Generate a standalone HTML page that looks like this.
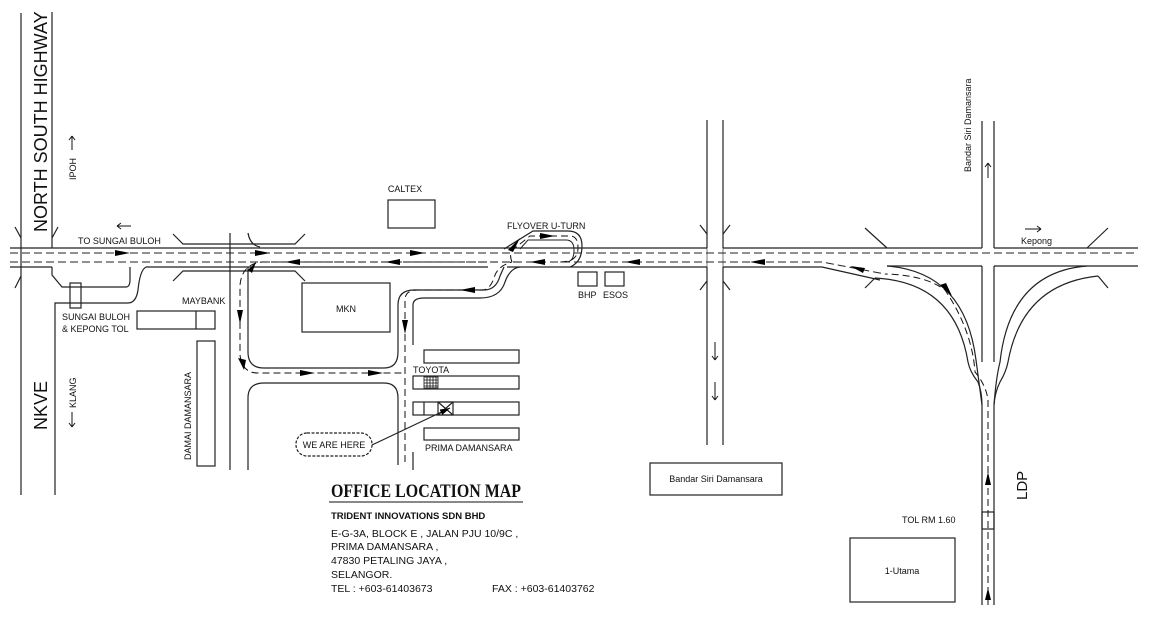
<!DOCTYPE html>
<html><head><meta charset="utf-8"><style>
html,body{margin:0;padding:0;background:#fff;}
svg{display:block;}
text{font-family:"Liberation Sans",sans-serif;fill:#111;}
</style></head><body>
<svg width="1152" height="619" viewBox="0 0 1152 619" xmlns="http://www.w3.org/2000/svg">
<defs>
<marker id="ar" viewBox="0 0 10 6" refX="10" refY="3" markerWidth="10" markerHeight="6" orient="auto" markerUnits="userSpaceOnUse"><path d="M0,0 L10,3 L0,6 Z" fill="#000"/></marker>
</defs>
<g stroke="#222" stroke-width="1.2" fill="none">
<line x1="21" y1="13" x2="21" y2="238"/>
<line x1="21" y1="276" x2="21" y2="495"/>
<line x1="52" y1="12" x2="52" y2="238"/>
<path d="M15,227 L21,238 M58,227 L52,238 M15,288 L21,276 M21,238 L21,276"/>
<path d="M52,238 L52,248"/>
<path d="M52,267 L52,275 L62,287 L126,287 Q130,287 130,280 L130,267"/>
<path d="M55,495 L55,303 L128,303 Q136,303 138,290 Q140,270 146,267"/>
<rect x="70" y="283" width="11" height="25"/>
<line x1="10" y1="248" x2="707" y2="248"/>
<line x1="723" y1="248" x2="982" y2="248"/>
<line x1="994" y1="248" x2="1138" y2="248"/>
<line x1="10" y1="267" x2="52" y2="267"/>
<line x1="146" y1="267" x2="488" y2="267"/>
<line x1="507" y1="267" x2="707" y2="267"/>
<line x1="723" y1="267" x2="822" y2="267"/>
<line x1="822" y1="267" x2="880" y2="280"/>
<line x1="887" y1="266" x2="982" y2="266"/>
<line x1="994" y1="266" x2="1138" y2="266"/>
<path d="M10,253 H1138" stroke-dasharray="8,4" stroke-width="1"/>
<path d="M10,262 H822 L885,274" stroke-dasharray="8,4" stroke-width="1"/>
<path d="M173,234 L183,244 H295 L305,234 M173,281 L183,271 H295 L305,281 M248,233 Q250,245 260,247"/>
<line x1="230" y1="233" x2="230" y2="470"/>
<path d="M248,267 V352 Q248,368 264,368 H384 Q398,368 398,352 V305 Q398,290 414,290 H484 Q496,290 500,276 L504,267"/>
<path d="M248,470 V398 Q248,383 264,383 H384 Q398,383 398,398 V465"/>
<path d="M413,345 V305 Q413,298 424,298 H480 Q500,298 505,282 Q510,268 520,267"/>
<line x1="413" y1="470" x2="413" y2="452"/>
<path d="M504,249 L533,231 H568 Q582,231 582,246 Q582,262 570,267"/>
<path d="M520,249 L528,240 H566 Q574,240 574,250 Q574,262 566,262" stroke-width="1"/>
<line x1="707" y1="120" x2="707" y2="248"/>
<line x1="723" y1="120" x2="723" y2="248"/>
<line x1="707" y1="267" x2="707" y2="445"/>
<line x1="723" y1="267" x2="723" y2="445"/>
<path d="M700,225 L707,234 M730,225 L723,234 M700,290 L707,281 M730,290 L723,281"/>
<line x1="707" y1="234" x2="707" y2="281" stroke-width="0.6"/>
<line x1="723" y1="234" x2="723" y2="281" stroke-width="0.6"/>
<line x1="982" y1="121" x2="982" y2="248"/>
<line x1="994" y1="121" x2="994" y2="248"/>
<line x1="982" y1="266" x2="982" y2="362"/>
<line x1="994" y1="266" x2="994" y2="362"/>
<line x1="982" y1="405" x2="982" y2="605"/>
<line x1="994" y1="405" x2="994" y2="605"/>
<path d="M865,228 L887,248 M1108,228 L1087,248 M865,288 L875,278 M1108,288 L1098,276"/>
<path d="M887,266 Q965,272 976,360 Q978,375 982,405"/>
<path d="M875,278 Q955,282 968,362 Q970,372 978,382 Q982,392 982,405"/>
<path d="M1087,266 Q1010,272 1000,362 Q996,378 994,405"/>
<path d="M1098,276 Q1022,284 1008,362 Q1006,372 1000,382 Q995,392 994,405"/>
<rect x="388" y="200" width="47" height="28"/>
<rect x="302" y="283" width="88" height="49"/>
<rect x="137" y="311" width="78" height="18"/><line x1="196" y1="311" x2="196" y2="329"/>
<rect x="197" y="341" width="18" height="125"/>
<rect x="578" y="272" width="19" height="14"/>
<rect x="605" y="272" width="19" height="14"/>
<rect x="424" y="350" width="95" height="13"/>
<rect x="413" y="376" width="106" height="13"/>
<rect x="413" y="402" width="106" height="13"/><line x1="424" y1="402" x2="424" y2="415"/>
<rect x="438" y="402" width="15" height="13"/><path d="M438,402 L453,415 M453,402 L438,415"/>
<rect x="424" y="428" width="95" height="12"/>
<rect x="650" y="463" width="132" height="32"/>
<rect x="850" y="538" width="105" height="64"/>
<rect x="982" y="512" width="12" height="17"/>
<rect x="296" y="433" width="76" height="23" rx="11" stroke-dasharray="3,1.5"/>
<line x1="372" y1="445" x2="450" y2="408" marker-end="url(#ar)"/>
</g>
<g stroke="#111" stroke-width="1" fill="none">
<path d="M117,226 H131 M117,226 l4,-3 M117,226 l4,3"/>
<path d="M1025,229 H1041 M1041,229 l-4,-3 M1041,229 l-4,3"/>
<path d="M715,342 V360 M715,360 l-3,-4 M715,360 l3,-4"/>
<path d="M715,382 V400 M715,400 l-3,-4 M715,400 l3,-4"/>
<path d="M988,163 V178 M988,163 l-3,4 M988,163 l3,4"/>
<path d="M72,136 V150 M72,136 l-3,4 M72,136 l3,4"/>
<path d="M72,412 V427 M72,427 l-3,-4 M72,427 l3,-4"/>
</g>
<g stroke="#111" stroke-width="0.8">
<rect x="424" y="377" width="14" height="11" fill="none"/>
<path d="M427,377V388M430,377V388M433,377V388M436,377V388M424,380H438M424,383H438M424,386H438"/>
</g>
<g stroke="#111" stroke-width="1" fill="none" stroke-dasharray="7,4">
<path d="M520,262 H262 Q242,264 240,285 V355 Q242,373 258,373 H405"/>
<path d="M405,462 V300 Q405,290 418,290 H482 Q490,290 494,278 Q497,266 512,262"/>
<path d="M512,262 Q508,252 515,248 L530,236 H570 Q578,236 578,248 Q578,262 560,262"/>
<path d="M988,605 V400 Q986,385 975,372 Q972,330 945,290 Q925,275 885,274"/>
</g>
<g fill="#000">
<path d="M115,250 L130,253 L115,256Z"/>
<path d="M255,250 L270,253 L255,256Z"/>
<path d="M410,250 L425,253 L410,256Z"/>
<path d="M300,259 L285,262 L300,265Z"/>
<path d="M400,259 L385,262 L400,265Z"/>
<path d="M545,259 L530,262 L545,265Z"/>
<path d="M640,259 L625,262 L640,265Z"/>
<path d="M765,259 L750,262 L765,265Z"/>
<path d="M865,268 L850,266 L863,273Z"/>
<path d="M940,285 L952,296 L946,283Z"/>
<path d="M985,485 L988,472 L991,485Z"/>
<path d="M985,600 L988,588 L991,600Z"/>
<path d="M237,310 L240,324 L243,310Z"/>
<path d="M300,370 L315,373 L300,376Z"/>
<path d="M368,370 L383,373 L368,376Z"/>
<path d="M402,320 L405,334 L408,320Z"/>
<path d="M475,287 L460,290 L475,293Z"/>
<path d="M540,233 L555,236 L540,239Z"/>
<path d="M508,250 L520,238 L513,252Z"/>
<path d="M248,270 L256,262 L252,273Z"/>
<path d="M238,358 L244,370 L246,360Z"/>
</g>
<g font-size="9">
<text x="405" y="192" text-anchor="middle">CALTEX</text>
<text x="507" y="229">FLYOVER U-TURN</text>
<text x="78" y="244">TO SUNGAI BULOH</text>
<text x="182" y="304">MAYBANK</text>
<text x="62" y="320">SUNGAI BULOH</text>
<text x="62" y="332">&amp; KEPONG TOL</text>
<text x="346" y="312" text-anchor="middle">MKN</text>
<text x="413" y="373">TOYOTA</text>
<text x="425" y="451">PRIMA DAMANSARA</text>
<text x="334" y="448" text-anchor="middle">WE ARE HERE</text>
<text x="578" y="298">BHP</text>
<text x="603" y="298">ESOS</text>
<text x="716" y="482" text-anchor="middle">Bandar Siri Damansara</text>
<text x="902" y="523">TOL RM 1.60</text>
<text x="902" y="574" text-anchor="middle">1-Utama</text>
<text x="1021" y="244">Kepong</text>
<text transform="translate(971,172) rotate(-90)" font-size="9">Bandar Siri Damansara</text>
<text transform="translate(191,460) rotate(-90)" font-size="9">DAMAI DAMANSARA</text>
<text transform="translate(76,180) rotate(-90)" font-size="9">IPOH</text>
<text transform="translate(76,408) rotate(-90)" font-size="9">KLANG</text>
</g>
<text transform="translate(47,232) rotate(-90)" font-size="18">NORTH  SOUTH  HIGHWAY</text>
<text transform="translate(47,430) rotate(-90)" font-size="18">NKVE</text>
<text transform="translate(1027,500) rotate(-90)" font-size="15">LDP</text>
<text x="331" y="497" font-size="19" font-weight="bold" textLength="190" lengthAdjust="spacingAndGlyphs" style="font-family:'Liberation Serif',serif">OFFICE LOCATION MAP</text>
<line x1="329" y1="502" x2="523" y2="502" stroke="#111" stroke-width="1"/>
<text x="331" y="519" font-size="9.5" font-weight="bold">TRIDENT INNOVATIONS SDN BHD</text>
<g font-size="10.5">
<text x="331" y="537">E-G-3A, BLOCK E , JALAN PJU 10/9C ,</text>
<text x="331" y="550">PRIMA DAMANSARA ,</text>
<text x="331" y="564">47830 PETALING JAYA ,</text>
<text x="331" y="578">SELANGOR.</text>
<text x="331" y="592">TEL : +603-61403673</text>
<text x="492" y="592">FAX : +603-61403762</text>
</g>
</svg>
</body></html>
